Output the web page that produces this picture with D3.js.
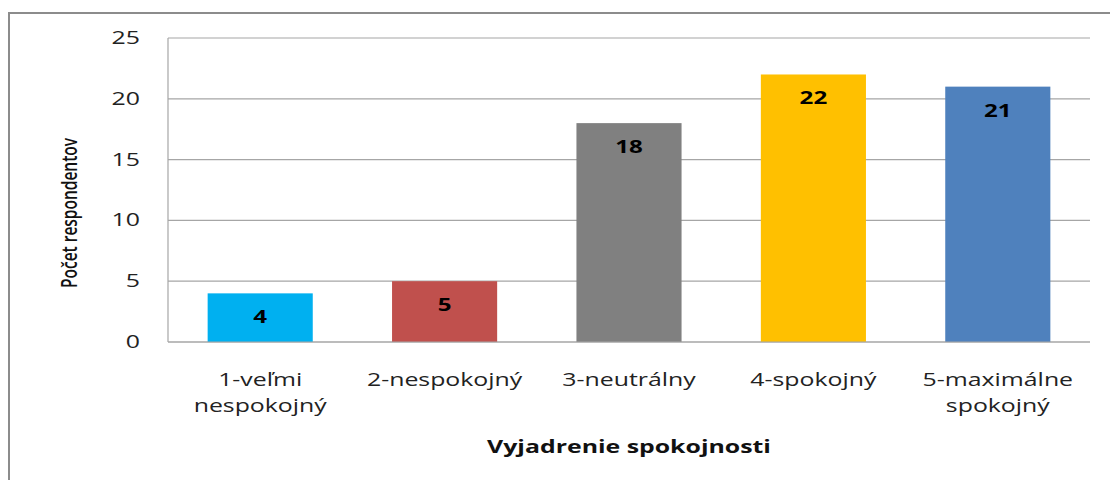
<!DOCTYPE html>
<html>
<head>
<meta charset="utf-8">
<script src="https://cdn.jsdelivr.net/npm/d3@7"></script>
<style>
body { margin: 0; background: #fff; }
text { font-family: "Open Sans", sans-serif; }
</style>
</head>
<body>
<div id="chart"></div>
<script>
// data
const categories = ["1-veľmi nespokojný", "2-nespokojný", "3-neutrálny", "4-spokojný", "5-maximálne spokojný"]
const labelLines = [["1-veľmi", "nespokojný"], ["2-nespokojný"], ["3-neutrálny"], ["4-spokojný"], ["5-maximálne", "spokojný"]]
const values = [4, 5, 18, 22, 21]
const colors = ["#00B0F0", "#C0504D", "#808080", "#FFC000", "#4F81BD"]
const yTicks = [0, 5, 10, 15, 20, 25]

const width = 1110
const height = 480
const margin = { top: 38, bottom: 138, left: 168, right: 20 }
const sx = 1.42 // the picture is stretched sideways

const svg = d3.select("#chart")
  .append("svg")
    .attr("width", width)
    .attr("height", height)

// outer frame (right and bottom edges lie off the picture)
svg.append("rect")
  .attr("x", 9).attr("y", 13)
  .attr("width", width).attr("height", height)
  .attr("fill", "none")
  .attr("stroke", "#8c8c8c")
  .attr("stroke-width", 2)

const x = d3.scaleBand()
  .domain(categories)
  .range([margin.left, width - margin.right])
  .paddingInner(0.43)
  .paddingOuter(0.215)

const y = d3.scaleLinear()
  .domain([0, 25])
  .range([height - margin.bottom, margin.top])

// grid
svg.append("g")
  .selectAll("line")
  .data(yTicks)
  .join("line")
    .attr("x1", margin.left).attr("x2", width - margin.right)
    .attr("y1", d => y(d)).attr("y2", d => y(d))
    .attr("stroke", "#a6a6a6")
    .attr("stroke-width", 1.2)

// axis lines
svg.append("line")
  .attr("x1", margin.left).attr("x2", margin.left)
  .attr("y1", y(0)).attr("y2", y(25))
  .attr("stroke", "#a6a6a6").attr("stroke-width", 1.2)

// y tick labels
svg.append("g")
  .selectAll("text")
  .data(yTicks)
  .join("text")
    .attr("transform", d => `translate(140, ${y(d) + 6}) scale(${sx}, 1)`)
    .attr("text-anchor", "end")
    .attr("font-size", 17.5)
    .attr("fill", "#222")
    .text(d => d)

// bars
svg.append("g")
  .selectAll("rect")
  .data(values)
  .join("rect")
    .attr("x", (d, i) => x(categories[i]))
    .attr("y", d => y(d))
    .attr("width", x.bandwidth())
    .attr("height", d => y(0) - y(d))
    .attr("fill", (d, i) => colors[i])

// value labels
svg.append("g")
  .selectAll("text")
  .data(values)
  .join("text")
    .attr("transform", (d, i) => `translate(${x(categories[i]) + x.bandwidth() / 2}, ${y(d) + 30}) scale(${sx}, 1)`)
    .attr("text-anchor", "middle")
    .attr("font-size", 17)
    .attr("font-weight", "bold")
    .attr("fill", "#000")
    .text(d => d)

// bottom axis line on top of bars
svg.append("line")
  .attr("x1", margin.left).attr("x2", width - margin.right)
  .attr("y1", y(0)).attr("y2", y(0))
  .attr("stroke", "#a6a6a6").attr("stroke-width", 1.2)

// x labels
const xl = svg.append("g")
  .selectAll("g")
  .data(labelLines)
  .join("g")
    .attr("transform", (d, i) => `translate(${x(categories[i]) + x.bandwidth() / 2}, 386) scale(${sx}, 1)`)
xl.selectAll("text")
  .data(d => d)
  .join("text")
    .attr("y", (d, j) => j * 26)
    .attr("text-anchor", "middle")
    .attr("font-size", 17.5)
    .attr("fill", "#222")
    .text(d => d)

// axis titles
svg.append("text")
  .attr("transform", `translate(${(margin.left + width - margin.right) / 2}, 453) scale(${sx}, 1)`)
  .attr("text-anchor", "middle")
  .attr("font-size", 17.5)
  .attr("font-weight", "bold")
  .attr("fill", "#111")
  .text("Vyjadrenie spokojnosti")

svg.append("text")
  .attr("transform", `translate(77, 213) rotate(-90) scale(1, ${sx})`)
  .attr("text-anchor", "middle")
  .attr("font-size", 15.5)
  .attr("font-weight", 600)
  .attr("fill", "#111")
  .text("Počet respondentov")
</script>
</body>
</html>
